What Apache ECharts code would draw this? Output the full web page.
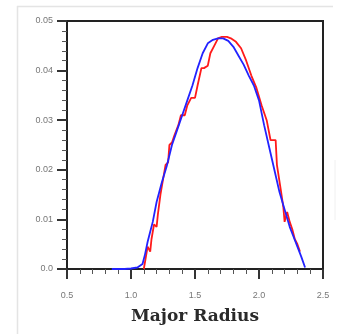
<!DOCTYPE html>
<html><head><meta charset="utf-8">
<script src="https://cdn.jsdelivr.net/npm/echarts@6/dist/echarts.min.js"></script>
<style>html,body{margin:0;padding:0;background:#fff}#c{width:337px;height:334px}</style>
</head><body><div id="c"></div>
<script>
const xTicks = [0.5, 1.0, 1.5, 2.0, 2.5];
const yTicks = [0.0, 0.01, 0.02, 0.03, 0.04, 0.05];
const xTitle = 'Major Radius';
const redX = [1.10,1.12,1.13,1.15,1.16,1.18,1.20,1.21,1.23,1.25,1.27,1.29,1.30,1.32,1.34,1.37,1.39,1.42,1.44,1.47,1.50,1.52,1.55,1.57,1.60,1.62,1.65,1.68,1.71,1.75,1.78,1.82,1.86,1.90,1.94,1.98,2.02,2.06,2.09,2.13,2.14,2.17,2.19,2.20,2.22,2.24,2.26,2.28,2.30,2.32];
const redY = [0.000,0.003,0.0045,0.0035,0.006,0.009,0.0085,0.011,0.015,0.018,0.021,0.0215,0.025,0.0255,0.027,0.029,0.031,0.031,0.033,0.0345,0.0345,0.037,0.0405,0.0405,0.041,0.0435,0.045,0.0465,0.0468,0.0468,0.0465,0.0458,0.0445,0.042,0.039,0.0365,0.033,0.030,0.026,0.026,0.021,0.016,0.0125,0.0095,0.0115,0.0095,0.008,0.006,0.005,0.0035];
const blueX = [0.85,0.95,1.00,1.05,1.09,1.11,1.13,1.15,1.17,1.20,1.24,1.28,1.32,1.36,1.40,1.44,1.48,1.52,1.56,1.60,1.64,1.68,1.72,1.76,1.80,1.84,1.88,1.92,1.96,2.00,2.04,2.08,2.12,2.16,2.20,2.24,2.27,2.30,2.33,2.36];
const blueY = [0,0,0.0001,0.0003,0.001,0.003,0.0055,0.0075,0.0095,0.0135,0.0174,0.0208,0.025,0.028,0.031,0.034,0.037,0.0405,0.0435,0.0455,0.0462,0.0465,0.0465,0.046,0.0448,0.043,0.0412,0.039,0.037,0.034,0.029,0.0245,0.020,0.0155,0.012,0.0085,0.0065,0.0045,0.0025,0.0003];

const chart = echarts.init(document.getElementById('c'));
const lab = {color:'#777', fontSize:9, fontFamily:'Liberation Sans'};
chart.setOption({
  animation:false,
  grid:{left:67,right:14,top:21,bottom:65,show:true,borderColor:'#222',borderWidth:2,backgroundColor:'transparent'},
  xAxis:{type:'value',min:xTicks[0],max:xTicks[xTicks.length-1],interval:0.5,
    name:xTitle,nameLocation:'middle',nameGap:39,
    nameTextStyle:{fontFamily:'DejaVu Serif',fontWeight:'bold',fontSize:17,color:'#2a2a2a'},
    axisLine:{show:true,onZero:false,lineStyle:{color:'#222',width:2}},
    axisTick:{show:true,length:10,lineStyle:{color:'#333',width:2}},
    minorTick:{show:true,splitNumber:5,length:5,lineStyle:{color:'#555',width:1}},
    splitLine:{show:false},
    axisLabel:Object.assign({margin:22,formatter:v=>v.toFixed(1)},lab)},
  yAxis:{type:'value',min:yTicks[0],max:yTicks[yTicks.length-1],interval:0.01,
    axisLine:{show:true,lineStyle:{color:'#222',width:2}},
    axisTick:{show:true,length:10,lineStyle:{color:'#333',width:2}},
    minorTick:{show:true,splitNumber:5,length:5,lineStyle:{color:'#555',width:1}},
    splitLine:{show:false},
    axisLabel:Object.assign({margin:14,formatter:v=>v===0?'0.0':v.toFixed(2)},lab)},
  series:[
    {type:'line',data:redX.map((x,i)=>[x,redY[i]]),showSymbol:false,lineStyle:{color:'#ff1a1a',width:1.8},z:2},
    {type:'line',data:blueX.map((x,i)=>[x,blueY[i]]),showSymbol:false,lineStyle:{color:'#2222ff',width:1.8},z:3}
  ],
  graphic:[
    {type:'line',shape:{x1:17,y1:6.5,x2:333,y2:6.5},style:{stroke:'#e4e4e4',lineWidth:1.5}},
    {type:'line',shape:{x1:17.5,y1:6,x2:17.5,y2:334},style:{stroke:'#e4e4e4',lineWidth:1.5}},
    {type:'line',shape:{x1:335,y1:160,x2:335,y2:220},style:{stroke:'#f0f0f0',lineWidth:1}}
  ]
});
</script></body></html>
